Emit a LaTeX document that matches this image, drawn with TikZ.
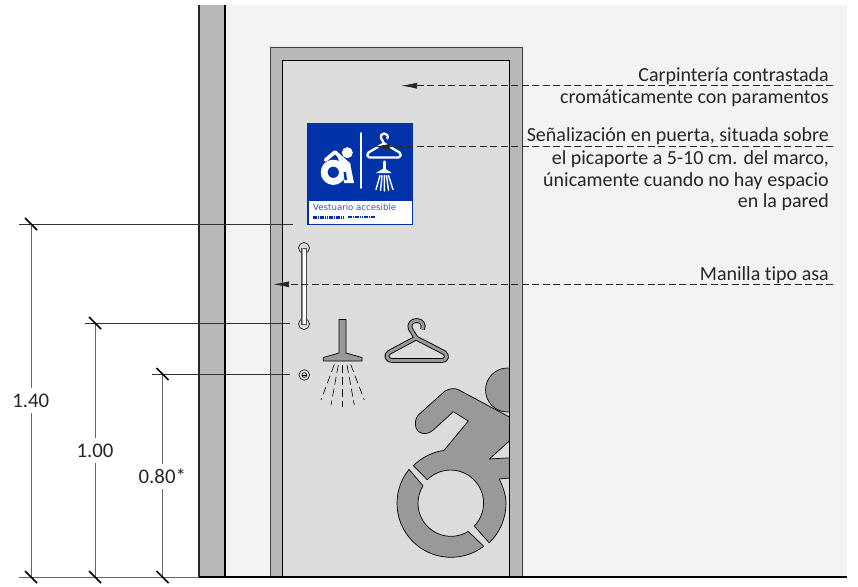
\documentclass[tikz,border=0pt]{standalone}
\usepackage{fontspec}
\setmainfont[Ligatures=NoCommon]{Carlito}
\newfontfamily\signfont{DejaVu Sans}
\usetikzlibrary{arrows.meta,calc}
\definecolor{wallbg}{HTML}{F3F3F3}
\definecolor{wallcut}{HTML}{B8B8B8}
\definecolor{doorbg}{HTML}{DCDCDC}
\definecolor{symbolgray}{HTML}{999999}
\definecolor{signblue}{HTML}{0033AA}
\definecolor{signtext}{HTML}{3355BB}
\tikzset{
  leader/.style={dashed, dash pattern=on 7pt off 3.5pt, line width=0.7pt, black!85, -{Latex[length=16pt,width=6pt]}},
  dimline/.style={line width=0.7pt, black!60},
  extline/.style={line width=0.7pt, black!80},
  tick/.style={line width=1.7pt},
  note/.style={anchor=base east, inner sep=0pt, font=\fontsize{20}{22}\selectfont, text=black!85},
  dimlabel/.style={fill=white, inner sep=1pt, minimum height=25pt, font=\fontsize{20.8}{22}\selectfont, text=black!85},
  symbolfill/.style={fill=symbolgray, draw=black, line width=0.7pt, line join=round},
  signline/.style={draw=white, line cap=round, line join=round}
}
\begin{document}
\begin{tikzpicture}[x=1pt,y=-1pt]
\useasboundingbox (0,0) rectangle (858,586);
% wall and door
\fill [wallbg] (225,5) rectangle (847,577);
\draw [wallcut, fill=wallcut] (199,5) rectangle (225,577);
\draw [line width=1.2pt, black!85] (199,5) -- (199,577);
\draw [line width=1.2pt] (225,5) -- (225,577);
\fill [doorbg] (282,60) rectangle (510,577);
% big symbols
\begin{scope}
\clip (282,60) rectangle (510,577);
\coordinate (W) at (451,503.3);
\draw [symbolfill] (507.5,390) circle [radius=22];
\draw [symbolfill] (418.3,415) -- (445,391) .. controls (450,388) and (456,388) .. (459,390) -- (515,420) -- (515,436) -- (489.3,459) -- (515,457.5) -- (515,477.5) -- (499.3,479) .. controls (503,487) and (506,495) .. (506,503.3) arc [start angle=0, end angle=46, radius=55] -- (474.3,526) arc [start angle=44, end angle=-135, radius=33] -- (413.3,465.7) arc [start angle=-135, end angle=-98, radius=54] -- (468.3,421) -- (453.3,411.7) -- (433.3,430) .. controls (426,436) and (418,434) .. (416,428) .. controls (415,423) and (415,419) .. (418.3,415) -- cycle;
\draw [symbolfill] ($(W)+(219:54)$) arc [start angle=219, end angle=52.7, radius=54] -- ($(W)+(58.5:33)$) arc [start angle=58.5, end angle=212, radius=33] -- cycle;
\end{scope}
% frame
\fill [wallcut] (270,47) -- (523,47) -- (523,577) -- (510,577) -- (510,60) -- (282,60) -- (282,577) -- (270,577) -- cycle;
\draw [line width=0.9pt, black!75] (270,577) -- (270,47) -- (522.5,47) -- (522.5,577);
\draw [line width=0.9pt] (282,577) -- (282,60) -- (509.7,60) -- (509.7,577);
% sign
\fill [signblue] (307,123) rectangle (413,225);
\fill [white] (308.5,200.5) rectangle (411.5,223.5);
\draw [signline, line width=1.9pt] (360.7,133) -- (360.7,188);
\fill [white] (347.3,152.7) circle [radius=5.5];
\draw [signline, line width=6.8pt] (333.3,172.3) circle [radius=9.2];
\draw [signline, line width=3.6pt] (325.5,160) -- (335,152) -- (349,165);
\fill [white] (335,151) -- (350,163) -- (354,183) -- (344,183) -- (342,168) -- cycle;
\fill [signblue] (343.5,172) -- (346,172) -- (347,180) -- (344.5,180) -- cycle;
\draw [signline, line width=2.3pt] (387.5,138.5) .. controls (388.5,135.5) and (386.5,133.5) .. (384,133.5) .. controls (381.5,133.5) and (380,136) .. (381,138) -- (384,143.3) -- (368.5,152.5) .. controls (366.5,155) and (367.5,157.5) .. (369.5,157.5) -- (398.5,157.5) .. controls (400.5,157.5) and (401.5,155) .. (399.5,152.5) -- (384,143.3);
\draw [signline, line width=2.6pt] (384.3,161.7) -- (384.3,170);
\fill [white] (376,173) -- (384.3,168) -- (391.7,173) -- cycle;
\draw [signline, line width=1.4pt] (380,175.5) -- (376,189.5) (382,175.5) -- (380.5,190.5) (384.3,175.5) -- (384.3,191) (386.5,175.5) -- (388.5,190.5) (388.5,175.5) -- (393,189.5);
\node (signlabel) [anchor=base west, inner sep=0pt, text=signtext, font=\signfont\fontsize{8.6}{10}\selectfont] at (313,210.7) {Vestuario accesible};
\draw [signblue, line width=3pt, dash pattern=on 1.6pt off 0.7pt] (313,217.6) -- (343,217.6);
\draw [signblue, line width=2pt, dash pattern=on 1.6pt off 0.7pt] (348,216.8) -- (375,216.8);
% handle and knob
\draw [fill=doorbg, line width=0.6pt] (304,248) circle [radius=5.5];
\draw [fill=doorbg, line width=0.6pt] (304,324) circle [radius=5.5];
\draw [fill=white, draw=black!70, line width=0.7pt] (301.5,248) rectangle (306,324);
\fill [black!45] (301.5,248) rectangle (303,324);
\draw [fill=doorbg, line width=0.6pt] (304.3,375) circle [radius=5.3];
\draw [line width=0.6pt] (304.3,375) circle [radius=2.4];
\draw [line width=0.6pt] (302,375) -- (306.6,375);
% shower
\draw [symbolfill] (339,319.5) -- (346,319.5) -- (346,353) -- (362,357.5) -- (362,361) -- (323.3,361) -- (323.3,357.5) -- (339,353) -- cycle;
\draw [line width=0.6pt, dash pattern=on 8pt off 4pt] (334.3,364.5) -- (321,400);
\draw [line width=0.6pt, dash pattern=on 8pt off 4pt] (338.3,365) -- (331,405);
\draw [line width=0.6pt, dash pattern=on 8pt off 4pt] (342.7,365) -- (342.7,407);
\draw [line width=0.6pt, dash pattern=on 8pt off 4pt] (347,365) -- (354.3,405);
\draw [line width=0.6pt, dash pattern=on 8pt off 4pt] (350.7,364.5) -- (364.3,400);
% hanger
\def\hangerpath{(422.5,329.5) .. controls (424.5,325) and (422,320.5) .. (416.5,320.5) .. controls (411.5,320.5) and (408.5,325) .. (410.5,329) -- (416,338) -- (389,352.5) .. controls (385,355) and (387,360.5) .. (392,360.5) -- (442,360.5) .. controls (447,360.5) and (448,355) .. (444,352.5) -- (416,338)}
\draw [line width=4.8pt, line join=round] \hangerpath;
\draw [symbolgray, line width=3pt, line join=round] \hangerpath;
% ground and dimensions
\draw [line width=1.8pt] (199,577) -- (847,577);
\draw [dimline] (19,577) -- (199,577);
\draw [extline] (19,224) -- (293,224);
\draw [extline] (85,323) -- (290,323);
\draw [extline] (152,374) -- (290,374);
\coordinate (A0) at (31,577);
\coordinate (A1) at (31,224);
\coordinate (B0) at (95,577);
\coordinate (B1) at (95,323);
\coordinate (C0) at (162.5,577);
\coordinate (C1) at (162.5,374);
\draw [dimline] (A0) -- (A1);
\draw [dimline] (B0) -- (B1);
\draw [dimline] (C0) -- (C1);
\draw [tick] (25,571) -- (37,583);
\draw [tick] (25,218) -- (37,230);
\draw [tick] (89,571) -- (101,583);
\draw [tick] (89,317) -- (101,329);
\draw [tick] (156.5,571) -- (168.5,583);
\draw [tick] (156.5,368) -- (168.5,380);
\node (D1) [dimlabel] at (30.7,400.5) {1.40};
\node (D2) [dimlabel] at (95,450.5) {1.00};
\node (D3) [dimlabel] at (162.3,476) {0.80*};
% notes
\node (N1) [note] at (829,81.7) {Carpintería contrastada};
\node (N2) [note] at (829,103) {cromáticamente con paramentos};
\node (N3) [note] at (829,141.7) {Señalización en puerta, situada sobre};
\node (N4) [note] at (829,164) {el picaporte a 5-10 cm. del marco,};
\node (N5) [note] at (829,186) {únicamente cuando no hay espacio};
\node (N6) [note] at (829,207) {en la pared};
\node (N7) [note] at (829,280) {Manilla tipo asa};
\coordinate (L1) at (833,85.7);
\coordinate (T1) at (401,85.7);
\coordinate (L2) at (833,146.7);
\coordinate (T2) at (374,146.7);
\coordinate (L3) at (833,284.3);
\coordinate (T3) at (273,284.3);
\draw [leader] (L1) -- (T1);
\draw [leader] (L2) -- (T2);
\draw [leader] (L3) -- (T3);
\end{tikzpicture}
\end{document}
